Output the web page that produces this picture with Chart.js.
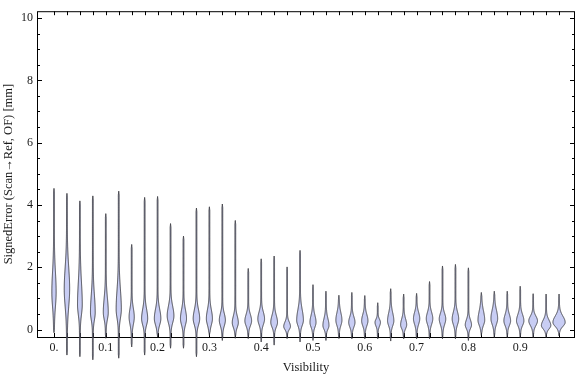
<!DOCTYPE html>
<html>
<head>
<meta charset="utf-8">
<script src="https://cdn.jsdelivr.net/npm/chart.js@4.4.1/dist/chart.umd.min.js"></script>
<style>
  html, body { margin: 0; padding: 0; background: #fff; }
  #wrap { width: 576px; height: 377px; }
</style>
</head>
<body>
<div id="wrap"><canvas id="violinChart" width="576" height="377"></canvas></div>
<script>
// Visibility bins (one violin each)
const visibility = [0, 0.025, 0.05, 0.075, 0.1, 0.125, 0.15, 0.175, 0.2, 0.225,
  0.25, 0.275, 0.3, 0.325, 0.35, 0.375, 0.4, 0.425, 0.45, 0.475,
  0.5, 0.525, 0.55, 0.575, 0.6, 0.625, 0.65, 0.675, 0.7, 0.725,
  0.75, 0.775, 0.8, 0.825, 0.85, 0.875, 0.9, 0.925, 0.95, 0.975];

// Signed error range per bin [mm]
const errMax = [4.53, 4.37, 4.13, 4.29, 3.72, 4.44, 2.73, 4.24, 4.27, 3.40,
  3.00, 3.90, 3.94, 4.03, 3.50, 1.96, 2.27, 2.36, 2.01, 2.54,
  1.44, 1.23, 1.10, 1.19, 1.09, 0.86, 1.31, 1.14, 1.16, 1.54,
  2.04, 2.09, 1.98, 1.19, 1.23, 1.23, 1.39, 1.15, 1.14, 1.14];
const errMin = [-0.10, -0.82, -0.87, -0.97, -0.28, -0.92, -0.56, -0.82, -0.24, -0.60,
  -0.60, -0.87, -0.19, -0.35, -0.28, -0.29, -0.40, -0.50, -0.29, -0.40,
  -0.35, -0.35, -0.29, -0.30, -0.30, -0.30, -0.37, -0.30, -0.30, -0.30,
  -0.30, -0.30, -0.35, -0.19, -0.26, -0.26, -0.26, -0.26, -0.26, -0.20];

// Density shape: mode, spread below / above the mode [mm], peak density [1/mm]
const errMode = [1.20, 1.30, 0.80, 0.55, 0.55, 0.65, 0.40, 0.35, 0.35, 0.44,
  0.35, 0.35, 0.35, 0.30, 0.22, 0.28, 0.34, 0.23, 0.10, 0.30,
  0.23, 0.13, 0.30, 0.23, 0.28, 0.23, 0.28, 0.15, 0.35, 0.35,
  0.34, 0.34, 0.15, 0.30, 0.35, 0.28, 0.28, 0.28, 0.13, 0.23];
const spreadLo = [0.46, 0.56, 0.32, 0.24, 0.22, 0.28, 0.23, 0.20, 0.20, 0.22,
  0.20, 0.20, 0.20, 0.18, 0.15, 0.16, 0.18, 0.15, 0.10, 0.17,
  0.15, 0.12, 0.17, 0.15, 0.16, 0.12, 0.16, 0.12, 0.18, 0.18,
  0.18, 0.18, 0.12, 0.16, 0.18, 0.15, 0.15, 0.15, 0.11, 0.13];
const spreadHi = [0.64, 0.69, 0.71, 0.55, 0.45, 0.62, 0.27, 0.30, 0.30, 0.30,
  0.28, 0.28, 0.28, 0.21, 0.21, 0.20, 0.22, 0.22, 0.14, 0.33,
  0.22, 0.22, 0.24, 0.18, 0.20, 0.10, 0.25, 0.19, 0.20, 0.20,
  0.18, 0.22, 0.16, 0.29, 0.27, 0.20, 0.20, 0.15, 0.17, 0.20];
const peakDensity = [0.80, 1.05, 0.90, 0.90, 0.95, 1.00, 1.00, 1.20, 1.30, 1.35,
  1.20, 1.30, 1.20, 1.20, 1.20, 1.35, 1.35, 1.35, 1.35, 1.35,
  1.20, 1.20, 1.20, 1.25, 1.25, 1.05, 1.25, 1.20, 1.25, 1.30,
  1.30, 1.30, 1.25, 1.35, 1.35, 1.35, 1.50, 1.80, 1.95, 2.60];

// Tick labels
const xTicks = [0, 0.1, 0.2, 0.3, 0.4, 0.5, 0.6, 0.7, 0.8, 0.9];
const xTickLabels = ["0.", "0.1", "0.2", "0.3", "0.4", "0.5", "0.6", "0.7", "0.8", "0.9"];
const yTicks = [0, 2, 4, 6, 8, 10];
const yMinorTicks = [0.5, 1, 1.5, 2.5, 3, 3.5, 4.5, 5, 5.5, 6.5, 7, 7.5, 8.5, 9, 9.5];

const FONT = { family: "'Liberation Serif', 'DejaVu Serif', serif", size: 12 };
const TITLE_FONT = { family: "'Liberation Serif', 'DejaVu Serif', serif", size: 12.5 };
const TEXT_COLOR = "#1a1a1a";
const PX_PER_DENSITY = 2.2; // half-width in px per unit density

// Frame with inward ticks, like Mathematica
const framePlugin = {
  id: "frame",
  beforeDatasetsDraw(chart) {
    const { ctx, chartArea: a, scales: { x, y } } = chart;
    ctx.save();
    ctx.strokeStyle = "#000";
    ctx.lineWidth = 1;
    ctx.strokeRect(a.left + 0.5, a.top + 0.5, a.right - a.left - 1, a.bottom - a.top);
    ctx.beginPath();
    yTicks.forEach(v => {
      const py = Math.round(y.getPixelForValue(v)) + 0.5;
      ctx.moveTo(a.left, py); ctx.lineTo(a.left + 5, py);
      ctx.moveTo(a.right, py); ctx.lineTo(a.right - 5, py);
    });
    yMinorTicks.forEach(v => {
      const py = Math.round(y.getPixelForValue(v)) + 0.5;
      ctx.moveTo(a.left, py); ctx.lineTo(a.left + 3, py);
      ctx.moveTo(a.right, py); ctx.lineTo(a.right - 3, py);
    });
    visibility.forEach(v => {
      const px = Math.round(x.getPixelForValue(v)) + 0.5;
      ctx.moveTo(px, a.top); ctx.lineTo(px, a.top + 4);
      ctx.moveTo(px, a.bottom); ctx.lineTo(px, a.bottom - 4);
    });
    ctx.stroke();
    ctx.restore();
  }
};

// Violin shapes drawn from the data through the chart scales
const violinPlugin = {
  id: "violins",
  afterDatasetsDraw(chart) {
    const { ctx, scales: { x, y } } = chart;
    const steps = 240;
    ctx.save();
    ctx.fillStyle = "rgb(200, 205, 244)";
    ctx.strokeStyle = "rgba(45, 45, 50, 0.85)";
    ctx.lineWidth = 1;
    ctx.lineJoin = "round";

    visibility.forEach((v, i) => {
      const cx = x.getPixelForValue(v);
      const lo = errMin[i], hi = errMax[i];
      const pts = [];
      for (let j = 0; j <= steps; j++) {
        const e = lo + (hi - lo) * j / steps;
        const s = e < errMode[i] ? spreadLo[i] : spreadHi[i];
        const z = (e - errMode[i]) / s;
        let w = PX_PER_DENSITY * peakDensity[i] * Math.exp(-0.5 * z * z) + 0.4;
        const endDist = Math.min(e - lo, hi - e);
        w *= Math.min(1, endDist / 0.12);
        pts.push([y.getPixelForValue(e), w]);
      }
      ctx.beginPath();
      pts.forEach(([py, w], j) => {
        if (j === 0) ctx.moveTo(cx - w, py); else ctx.lineTo(cx - w, py);
      });
      for (let j = pts.length - 1; j >= 0; j--) {
        ctx.lineTo(cx + pts[j][1], pts[j][0]);
      }
      ctx.closePath();
      ctx.fill();
      ctx.stroke();
    });
    ctx.restore();
  }
};

const ctx = document.getElementById("violinChart").getContext("2d");

new Chart(ctx, {
  type: "scatter",
  data: {
    datasets: [
      {
        label: "max",
        data: visibility.map((v, i) => ({ x: v, y: errMax[i] })),
        pointRadius: 0,
        showLine: false,
      },
      {
        label: "min",
        data: visibility.map((v, i) => ({ x: v, y: errMin[i] })),
        pointRadius: 0,
        showLine: false,
      },
    ],
  },
  options: {
    responsive: false,
    animation: false,
    layout: { padding: { top: 4, right: 1, left: 0, bottom: 0 } },
    plugins: {
      legend: { display: false },
      tooltip: { enabled: false },
    },
    scales: {
      x: {
        type: "linear",
        min: -0.0328,
        max: 1.0058,
        grid: { display: false, drawTicks: false },
        border: { display: false },
        afterBuildTicks: s => { s.ticks = xTicks.map(v => ({ value: v })); },
        afterFit: s => { s.height = 40; },
        ticks: {
          autoSkip: false,
          maxRotation: 0,
          padding: 4,
          color: TEXT_COLOR,
          font: FONT,
          callback: (value) => xTickLabels[xTicks.indexOf(value)] ?? "",
        },
        title: {
          display: true,
          text: "Visibility",
          color: TEXT_COLOR,
          font: TITLE_FONT,
          padding: { top: 2, bottom: 2 },
        },
      },
      y: {
        min: -0.24,
        max: 10.22,
        grid: { display: false, drawTicks: false },
        border: { display: false },
        afterBuildTicks: s => { s.ticks = yTicks.map(v => ({ value: v })); },
        afterFit: s => { s.width = 37; },
        ticks: {
          padding: 4,
          color: TEXT_COLOR,
          font: FONT,
          callback: (value) => String(value),
        },
        title: {
          display: true,
          text: "SignedError (Scan\u2192Ref, OF) [mm]",
          color: TEXT_COLOR,
          font: TITLE_FONT,
          padding: { top: 1, bottom: 0 },
        },
      },
    },
  },
  plugins: [framePlugin, violinPlugin],
});
</script>
</body>
</html>
